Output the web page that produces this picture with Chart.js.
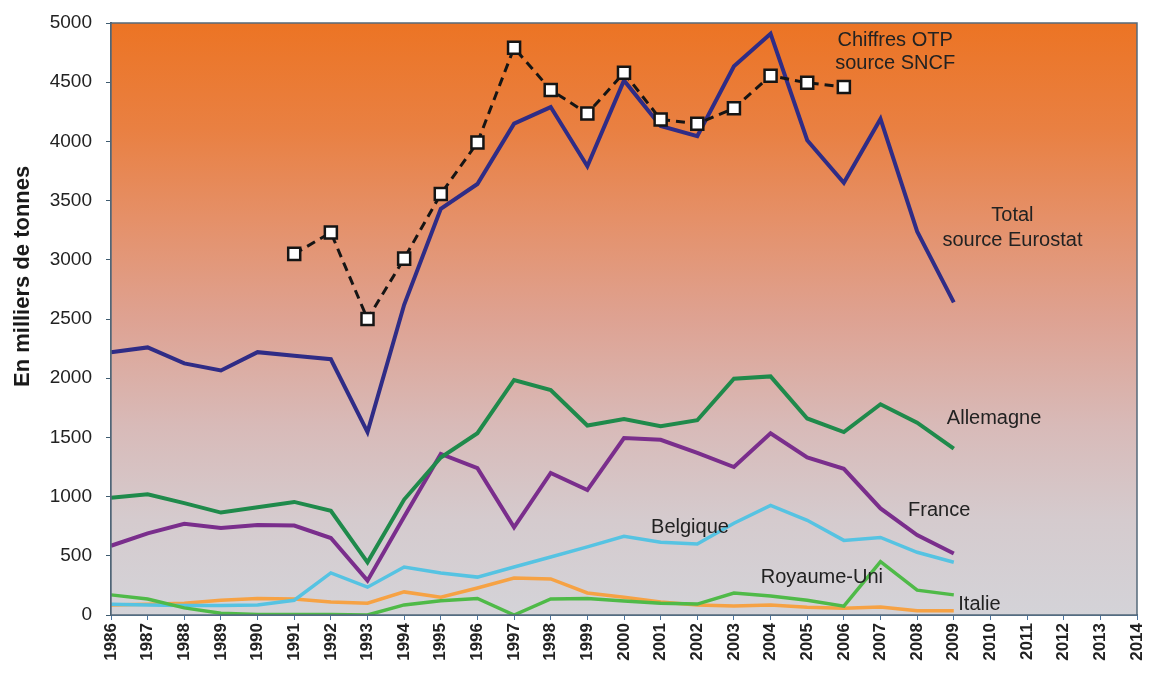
<!DOCTYPE html>
<html>
<head>
<meta charset="utf-8">
<script src="https://cdn.jsdelivr.net/npm/chart.js@4"></script>
<style>
  html, body { margin: 0; padding: 0; background: #fff; }
  canvas { display: block; }
</style>
</head>
<body>
<canvas id="fretChart" width="1156" height="675"></canvas>
<script>
// years on the x axis, 1986 -> 2014
const years = ['1986','1987','1988','1989','1990','1991','1992','1993','1994','1995','1996','1997','1998','1999','2000','2001','2002','2003','2004','2005','2006','2007','2008','2009','2010','2011','2012','2013','2014'];

// en milliers de tonnes
const otpSncf     = [null, null, null, null, null, 3050, 3230, 2500, 3010, 3555, 3990, 4790, 4435, 4235, 4580, 4185, 4150, 4280, 4555, 4495, 4460, null, null, null, null, null, null, null, null];
const totalEuro   = [2220, 2260, 2125, 2065, 2220, 2190, 2160, 1545, 2620, 3430, 3640, 4150, 4290, 3790, 4515, 4130, 4045, 4635, 4910, 4010, 3650, 4190, 3240, 2640, null, null, null, null, null];
const allemagne   = [990, 1020, 945, 865, 910, 955, 880, 445, 975, 1330, 1535, 1985, 1900, 1600, 1655, 1595, 1645, 1995, 2015, 1660, 1545, 1780, 1625, 1405, null, null, null, null, null];
const france      = [585, 690, 770, 735, 760, 755, 650, 290, 830, 1360, 1240, 740, 1200, 1055, 1495, 1480, 1370, 1250, 1535, 1330, 1235, 900, 675, 520, null, null, null, null, null];
const belgique    = [90, 85, 80, 80, 85, 125, 355, 235, 405, 355, 320, 405, 490, 575, 665, 615, 600, 775, 925, 800, 630, 655, 530, 445, null, null, null, null, null];
const royaumeUni  = [170, 135, 60, 15, 5, 5, 5, 0, 85, 120, 140, 0, 135, 140, 118, 100, 92, 185, 160, 125, 75, 450, 210, 170, null, null, null, null, null];
const italie      = [85, 90, 100, 125, 140, 135, 110, 100, 195, 150, 228, 312, 305, 186, 150, 110, 85, 75, 85, 65, 58, 67, 35, 35, null, null, null, null, null];

const yTicks = { min: 0, max: 5000, step: 500 };

// series names written on the chart: [text lines, year position, value position]
const seriesLabels = [
  [['Chiffres OTP', 'source SNCF'], 2007.4, [4850, 4660]],
  [['Total', 'source Eurostat'], 2010.6, [3375, 3165]],
  [['Allemagne'], 2010.1, [1660]],
  [['France'], 2008.6, [885]],
  [['Belgique'], 2001.8, [742]],
  [['Royaume-Uni'], 2005.4, [318]],
  [['Italie'], 2009.7, [92]]
];

const yTitle = 'En milliers de tonnes';

const TEXT = '#222222';
const FONT = '"Liberation Sans", Arial, sans-serif';

const backdrop = {
  id: 'backdrop',
  beforeDatasetsDraw(chart) {
    const { ctx, chartArea: a } = chart;
    const g = ctx.createLinearGradient(0, a.top, 0, a.bottom);
    g.addColorStop(0.00, 'rgb(236,116,36)');
    g.addColorStop(0.18, 'rgb(233,128,66)');
    g.addColorStop(0.33, 'rgb(229,144,104)');
    g.addColorStop(0.50, 'rgb(222,162,146)');
    g.addColorStop(0.68, 'rgb(216,186,184)');
    g.addColorStop(0.84, 'rgb(213,203,206)');
    g.addColorStop(1.00, 'rgb(212,211,216)');
    ctx.save();
    ctx.fillStyle = g;
    ctx.fillRect(a.left, a.top, a.width, a.height);
    ctx.restore();
  },
  afterDatasetsDraw(chart) {
    const { ctx, chartArea: a, scales } = chart;
    ctx.save();
    ctx.strokeStyle = '#55697a';
    ctx.lineWidth = 1.5;
    ctx.strokeRect(a.left, a.top, a.width, a.height);

    const x0 = scales.x.getPixelForValue(0);
    const step = scales.x.getPixelForValue(1) - x0;
    ctx.fillStyle = TEXT;
    ctx.font = '20px ' + FONT;
    ctx.textAlign = 'center';
    ctx.textBaseline = 'middle';
    seriesLabels.forEach(([lines, yr, vals]) => {
      const px = x0 + (yr - 1986) * step;
      lines.forEach((t, i) => ctx.fillText(t, px, scales.y.getPixelForValue(vals[i])));
    });

    // axis title sits a bit above the middle of the axis in the original
    ctx.translate(23, scales.y.getPixelForValue(2860));
    ctx.rotate(-Math.PI / 2);
    ctx.fillStyle = '#1a1a1a';
    ctx.font = 'bold 22px ' + FONT;
    ctx.fillText(yTitle, 0, 0);
    ctx.restore();
  }
};

function line(label, data, color, width) {
  return {
    label: label,
    data: data,
    borderColor: color,
    borderWidth: width,
    pointRadius: 0,
    tension: 0,
    spanGaps: false
  };
}

new Chart(document.getElementById('fretChart'), {
  type: 'line',
  data: {
    labels: years,
    datasets: [
      {
        label: 'Chiffres OTP source SNCF',
        data: otpSncf,
        borderColor: '#151515',
        borderWidth: 3,
        borderDash: [9, 6],
        pointStyle: 'rect',
        pointRadius: 8.5,
        pointBackgroundColor: '#ffffff',
        pointBorderColor: '#151515',
        pointBorderWidth: 2.5,
        tension: 0
      },
      line('Total source Eurostat', totalEuro, '#2f2c86', 4),
      line('Allemagne', allemagne, '#1f8a4b', 4),
      line('France', france, '#7a2e8c', 4),
      line('Royaume-Uni', royaumeUni, '#4fba48', 3.5),
      line('Belgique', belgique, '#56c3e2', 3.5),
      line('Italie', italie, '#f6a244', 3.5)
    ]
  },
  options: {
    responsive: false,
    animation: false,
    devicePixelRatio: 1,
    layout: { padding: { top: 23, right: 19, left: 0, bottom: 0 } },
    plugins: {
      legend: { display: false },
      tooltip: { enabled: false }
    },
    scales: {
      x: {
        type: 'category',
        offset: false,
        afterFit(scale) {
          scale.height = 60;
          scale.paddingLeft = 0;
          scale.paddingRight = 0;
        },
        grid: { drawOnChartArea: false, drawTicks: true, tickLength: 5, color: '#4b74a0' },
        border: { color: '#4b74a0', width: 2 },
        ticks: {
          autoSkip: false,
          minRotation: 90,
          maxRotation: 90,
          padding: 3,
          color: TEXT,
          font: { family: FONT, size: 17, weight: 'bold' }
        }
      },
      y: {
        min: yTicks.min,
        max: yTicks.max,
        afterFit(scale) {
          scale.width = 111;
          scale.paddingTop = 0;
          scale.paddingBottom = 0;
        },
        grid: { drawOnChartArea: false, drawTicks: true, tickLength: 5, color: '#3e5b70' },
        border: { color: '#3e5b70', width: 2 },
        ticks: {
          stepSize: yTicks.step,
          padding: 14,
          color: TEXT,
          font: { family: FONT, size: 19 },
          callback: (v) => String(v)
        }
      }
    }
  },
  plugins: [backdrop]
});
</script>
</body>
</html>
